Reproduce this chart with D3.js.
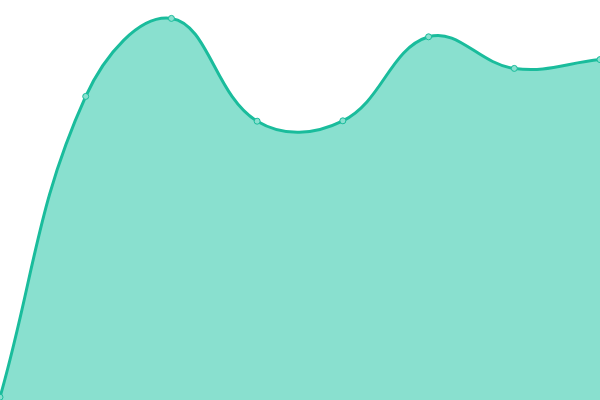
<!DOCTYPE html>
<html>
<head>
<meta charset="utf-8">
<script src="https://cdn.jsdelivr.net/npm/d3@7"></script>
<style>
  html, body { margin: 0; padding: 0; background: #fff; overflow: hidden; }
</style>
</head>
<body>
<div id="chart"></div>
<script>
// data
var labels = ['A', 'B', 'C', 'D', 'E', 'F', 'G', 'H'];
var values = [0.7, 75.9, 95.4, 69.7, 69.8, 90.8, 82.9, 85.1];

var width = 600, height = 400;

// spline with distance-weighted control points (tension 0.4)
function SplineCurve(context) { this._context = context; }
SplineCurve.prototype = {
    areaStart: function () { this._line = 0; },
    areaEnd: function () { this._line = NaN; },
    lineStart: function () { this._pts = []; },
    lineEnd: function () {
        var p = this._pts, n = p.length, ctx = this._context, t = 0.4;
        if (n) {
            var cps = p.map(function (c, i) {
                var a = p[Math.max(i - 1, 0)], b = p[Math.min(i + 1, n - 1)];
                var d01 = Math.hypot(c[0] - a[0], c[1] - a[1]);
                var d12 = Math.hypot(b[0] - c[0], b[1] - c[1]);
                var s = d01 + d12 || 1;
                var fa = t * d01 / s, fb = t * d12 / s;
                var clamp = function (v) { return Math.max(0, Math.min(height, v)); };
                return {
                    px: c[0] - fa * (b[0] - a[0]), py: clamp(c[1] - fa * (b[1] - a[1])),
                    nx: c[0] + fb * (b[0] - a[0]), ny: clamp(c[1] + fb * (b[1] - a[1]))
                };
            });
            if (this._line) ctx.lineTo(p[0][0], p[0][1]); else ctx.moveTo(p[0][0], p[0][1]);
            for (var i = 1; i < n; i++) {
                ctx.bezierCurveTo(cps[i - 1].nx, cps[i - 1].ny, cps[i].px, cps[i].py, p[i][0], p[i][1]);
            }
        }
        if (this._line || (this._line !== 0 && n === 1)) ctx.closePath();
        this._line = 1 - this._line;
    },
    point: function (x, y) { this._pts.push([+x, +y]); }
};
function curveSpline(context) { return new SplineCurve(context); }

var xScale = d3.scalePoint()
    .domain(labels)
    .range([0, width]);

var yScale = d3.scaleLinear()
    .domain([0, 100])
    .range([height, 0]);

var area = d3.area()
    .x(function (d, i) { return xScale(labels[i]); })
    .y0(height)
    .y1(function (d) { return yScale(d); })
    .curve(curveSpline);

var line = d3.line()
    .x(function (d, i) { return xScale(labels[i]); })
    .y(function (d) { return yScale(d); })
    .curve(curveSpline);

var svg = d3.select('#chart').append('svg')
    .attr('width', width)
    .attr('height', height);

svg.append('path')
    .datum(values)
    .attr('fill', '#89e0cf')
    .attr('d', area);

svg.append('path')
    .datum(values)
    .attr('fill', 'none')
    .attr('stroke', '#1abc9c')
    .attr('stroke-width', 3)
    .attr('d', line);

svg.selectAll('.dot')
    .data(values)
    .enter().append('circle')
    .attr('class', 'dot')
    .attr('cx', function (d, i) { return xScale(labels[i]); })
    .attr('cy', function (d) { return yScale(d); })
    .attr('r', 3)
    .attr('fill', '#89e0cf')
    .attr('stroke', '#1abc9c')
    .attr('stroke-width', 1);
</script>
</body>
</html>
